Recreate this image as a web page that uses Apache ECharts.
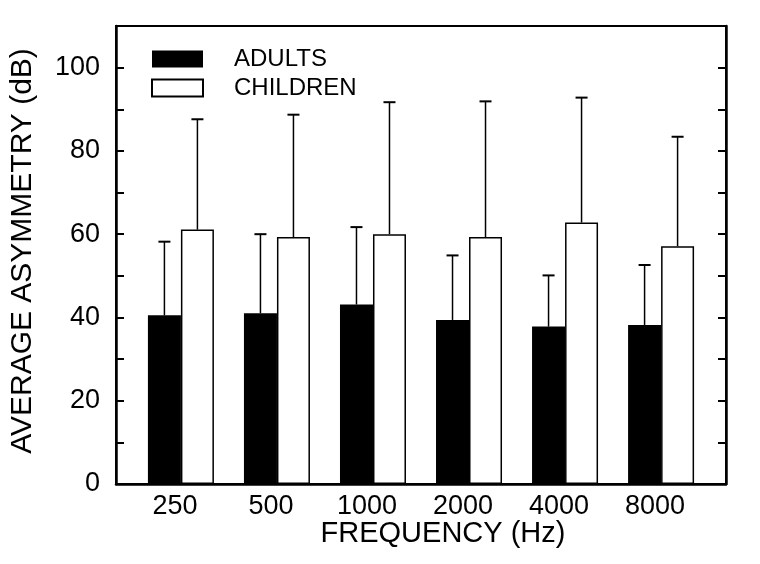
<!DOCTYPE html>
<html>
<head>
<meta charset="utf-8">
<script src="https://cdn.jsdelivr.net/npm/echarts@6/dist/echarts.min.js"></script>
<style>html,body{margin:0;padding:0;background:#fff}#c{width:760px;height:564px}</style>
</head>
<body>
<div id="c"></div>
<script>
// ---- data ----
const freqLabels = ['250', '500', '1000', '2000', '4000', '8000'];
const freqPos = [1, 2, 3, 4, 5, 6];
const adultsMean = [40.5, 41.0, 43.1, 39.4, 37.8, 38.2];
const adultsUpper = [58.2, 60.0, 61.7, 54.9, 50.1, 52.6];
const childrenMean = [61.1, 59.3, 60.0, 59.3, 62.8, 57.1];
const childrenUpper = [87.6, 88.7, 91.7, 91.9, 92.8, 83.4];
const yTicks = [0, 20, 40, 60, 80, 100];

// ---- style constants ----
const FONT = 'Liberation Sans, Arial, sans-serif';
const BAR_W = 33;
const CAP_HALF = 6;

function errRender(offset) {
  return function (params, api) {
    const x = api.value(0);
    const base = api.coord([x, api.value(1)]);
    const top = api.coord([x, api.value(2)]);
    const cx = base[0] + offset;
    return {
      type: 'group',
      children: [
        { type: 'line', shape: { x1: cx, y1: base[1], x2: cx, y2: top[1] },
          style: { stroke: '#000', lineWidth: 1.5 } },
        { type: 'line', shape: { x1: cx - CAP_HALF, y1: top[1], x2: cx + CAP_HALF, y2: top[1] },
          style: { stroke: '#000', lineWidth: 2 } }
      ]
    };
  };
}

const chart = echarts.init(document.getElementById('c'), null, { renderer: 'canvas' });
const yAxisCommon = {
  type: 'value', min: 0, max: 110, interval: 10,
  axisLine: { show: true, lineStyle: { color: '#000', width: 2.5 } },
  axisTick: { show: true, inside: true, length: 8, lineStyle: { color: '#000', width: 2 } },
  splitLine: { show: false }
};
chart.setOption({
  animation: false,
  backgroundColor: '#fff',
  grid: { left: 115, right: 34, top: 26, bottom: 80, show: true, borderColor: '#000', borderWidth: 2, backgroundColor: 'transparent' },
  legend: {
    orient: 'vertical', left: 151, top: 47, padding: 0,
    itemWidth: 51, itemHeight: 17, itemGap: 5,
    icon: 'rect',
    data: ['ADULTS', 'CHILDREN'],
    textStyle: { fontFamily: FONT, fontSize: 24, color: '#000', padding: [0, 0, 0, 26] }
  },
  xAxis: {
    type: 'value', min: 0.324, max: 6.676,
    name: 'FREQUENCY (Hz)', nameLocation: 'middle', nameGap: 35, nameMoveOverlap: false,
    nameTextStyle: { fontFamily: FONT, fontSize: 29, color: '#000', padding: [0, 0, 0, 44] },
    axisLine: { show: true, lineStyle: { color: '#000', width: 2.5 } },
    axisTick: { show: false },
    splitLine: { show: false },
    axisLabel: {
      customValues: freqPos,
      fontFamily: FONT, fontSize: 27, color: '#000', margin: 9,
      padding: [0, 12, 0, 0],
      formatter: v => freqLabels[Math.round(v) - 1] || ''
    }
  },
  yAxis: [
    Object.assign({}, yAxisCommon, {
      position: 'left',
      name: 'AVERAGE ASYMMETRY (dB)', nameLocation: 'middle', nameGap: 78, nameRotate: 90,
      nameMoveOverlap: false,
      nameTextStyle: { fontFamily: FONT, fontSize: 30, color: '#000', padding: [0, 0, 0, 8] },
      axisLabel: {
        fontFamily: FONT, fontSize: 27, color: '#000', margin: 16,
        formatter: v => (yTicks.indexOf(v) >= 0 ? String(v) : '')
      }
    }),
    Object.assign({}, yAxisCommon, { position: 'right', axisLabel: { show: false } })
  ],
  series: [
    {
      name: 'ADULTS', type: 'bar', barWidth: BAR_W, barGap: '0%',
      itemStyle: { color: '#000' },
      data: freqPos.map((x, i) => [x, adultsMean[i]])
    },
    {
      name: 'CHILDREN', type: 'bar', barWidth: BAR_W, barGap: '0%',
      itemStyle: { color: '#fff', borderColor: '#000', borderWidth: 1.5 },
      data: freqPos.map((x, i) => [x, childrenMean[i]])
    },
    {
      type: 'custom', renderItem: errRender(-BAR_W / 2), z: 5,
      data: freqPos.map((x, i) => [x, adultsMean[i], adultsUpper[i]])
    },
    {
      type: 'custom', renderItem: errRender(BAR_W / 2), z: 5,
      data: freqPos.map((x, i) => [x, childrenMean[i], childrenUpper[i]])
    }
  ]
});
</script>
</body>
</html>
